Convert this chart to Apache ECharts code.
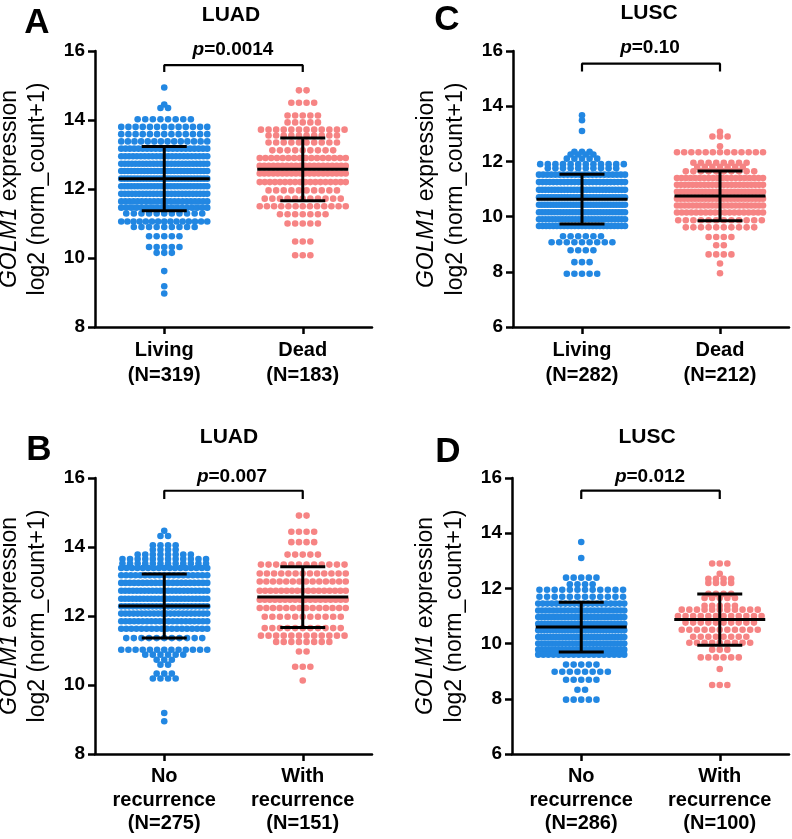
<!DOCTYPE html>
<html>
<head>
<meta charset="utf-8">
<script src="https://cdn.jsdelivr.net/npm/echarts@6/dist/echarts.min.js"></script>
<style>
html,body{margin:0;padding:0;background:#fff;}
#chart{width:792px;height:839px;}
</style>
</head>
<body>
<div id="chart"></div>
<script>
// ---------- DATA ----------
// Category labels
const catsA = ['Living\n(N=319)', 'Dead\n(N=183)'];
const catsC = ['Living\n(N=282)', 'Dead\n(N=212)'];
const catsB = ['No\nrecurrence\n(N=275)', 'With\nrecurrence\n(N=151)'];
const catsD = ['No\nrecurrence\n(N=286)', 'With\nrecurrence\n(N=100)'];

// Swarm rows: expression level of each row and number of dots in that row
// Panel A  LUAD  Living / Dead
const luadLivingY = [14.94,14.45,14.35,14.02,13.80,13.59,13.38,13.17,12.95,12.73,12.52,12.30,12.08,11.86,11.64,11.46,11.29,11.06,10.90,10.63,10.32,10.15,9.62,9.18,8.97];
const luadLivingN = [1,1,2,8,13,13,14,21,23,25,27,28,27,25,22,18,11,15,9,5,5,3,1,1,1];
const luadDeadY = [14.86,14.50,14.13,13.93,13.72,13.55,13.35,13.12,12.90,12.67,12.45,12.20,11.96,11.72,11.50,11.27,11.00,10.48,10.08];
const luadDeadN = [2,4,5,5,12,10,10,9,16,20,20,18,10,11,13,7,5,3,3];
// Panel C  LUSC  Living / Dead
const luscLivingY = [13.67,13.49,13.10,12.35,12.25,12.10,11.90,11.75,11.52,11.25,10.97,10.70,10.43,10.16,9.90,9.66,9.29,9.07,8.78,8.35,7.93];
const luscLivingN = [1,1,1,3,4,5,12,10,22,25,28,31,31,29,27,25,6,9,4,3,5];
const luscDeadY = [13.07,12.90,12.55,12.33,11.95,11.80,11.64,11.40,11.15,10.90,10.65,10.40,10.15,9.87,9.61,9.26,8.96,8.63,8.30,7.95];
const luscDeadN = [1,3,1,13,8,7,10,20,23,25,25,23,19,12,10,4,2,4,1,1];
// Panel B  LUAD  No recurrence / With recurrence
const luadNoRecY = [14.47,14.32,14.05,13.92,13.78,13.65,13.52,13.39,13.18,12.96,12.73,12.50,12.28,12.07,11.85,11.63,11.36,11.02,10.88,10.73,10.59,10.33,10.19,9.19,8.95];
const luadNoRecN = [1,2,4,4,8,12,12,17,19,21,23,24,23,22,21,18,11,13,6,3,2,3,4,1,1];
const luadRecY = [14.91,14.44,14.14,13.78,13.49,13.23,13.00,12.73,12.47,12.23,11.98,11.65,11.43,11.25,10.97,10.53,10.13];
const luadRecN = [2,4,4,5,12,13,14,17,18,14,11,11,12,8,2,3,1];
// Panel D  LUSC  No recurrence / With recurrence
const luscNoRecY = [13.68,13.10,12.39,12.15,11.95,11.70,11.45,11.20,10.96,10.72,10.48,10.24,10.00,9.78,9.60,9.24,8.98,8.69,8.33,7.97];
const luscNoRecN = [1,1,5,4,12,12,20,24,27,29,30,29,26,23,18,5,8,5,2,5];
const luscRecY = [12.90,12.53,12.35,12.20,11.80,11.65,11.37,11.23,11.00,10.76,10.50,10.25,10.03,9.78,9.50,9.08,8.50];
const luscRecN = [3,1,4,4,4,5,5,11,12,10,11,8,9,3,6,1,3];

// Mean and SD per group
const meanA = [12.30, 12.57], sdA = [0.93, 0.91];
const meanC = [10.63, 10.75], sdC = [0.90, 0.90];
const meanB = [12.29, 12.55], sdB = [0.93, 0.88];
const meanD = [10.60, 10.87], sdD = [0.90, 0.93];

// p-values and bracket levels [drop end, top]
const pVals = ['0.0014', '0.10', '0.007', '0.012'];
const bracketA = [15.39, 15.59];
const bracketC = [15.26, 15.54];
const bracketB = [15.39, 15.63];
const bracketD = [15.24, 15.54];

const panelTitles = ['LUAD', 'LUSC', 'LUAD', 'LUSC'];
const panelLetters = ['A', 'C', 'B', 'D'];

// ---------- STYLE ----------
const FONT = '"Liberation Sans", Arial, Helvetica, sans-serif';
const BLUE = '#2287e2';
const PINK = '#f68484';

function swarm(cat, ys, ns) {
  const out = [];
  ys.forEach((v, i) => {
    const n = ns[i];
    const sp = n > 1 ? Math.min(7.6, 86 / (n - 1)) : 0;
    for (let k = 0; k < n; k++) {
      out.push({ value: [cat, v], symbolOffset: [(k - (n - 1) / 2) * sp, 0] });
    }
  });
  return out;
}

const grids = [
  { left: 95, top: 51, width: 277, height: 276 },
  { left: 513, top: 51, width: 276, height: 276 },
  { left: 95, top: 478, width: 277, height: 276 },
  { left: 512, top: 478, width: 277, height: 276 }
];
const cats = [catsA, catsC, catsB, catsD];
const yMins = [8, 6, 8, 6];
const groupsY = [[luadLivingY, luadDeadY], [luscLivingY, luscDeadY], [luadNoRecY, luadRecY], [luscNoRecY, luscRecY]];
const groupsN = [[luadLivingN, luadDeadN], [luscLivingN, luscDeadN], [luadNoRecN, luadRecN], [luscNoRecN, luscRecN]];
const means = [meanA, meanC, meanB, meanD];
const sds = [sdA, sdC, sdB, sdD];
const brackets = [bracketA, bracketC, bracketB, bracketD];

const xAxes = [], yAxes = [], series = [];
for (let g = 0; g < 4; g++) {
  const twoLine = g < 2;
  xAxes.push({
    type: 'category', gridIndex: g, data: cats[g], boundaryGap: true,
    axisLine: { show: true, lineStyle: { color: '#000', width: 2.5 } },
    axisTick: { show: true, alignWithLabel: true, length: 7, lineStyle: { color: '#000', width: 2.5 } },
    axisLabel: { color: '#000', fontFamily: FONT, fontWeight: 'bold', fontSize: 20,
      lineHeight: twoLine ? 25 : 23.5, margin: 11, interval: 0 },
    splitLine: { show: false }
  });
  yAxes.push({
    type: 'value', gridIndex: g, min: yMins[g], max: 16, interval: 2,
    axisLine: { show: true, lineStyle: { color: '#000', width: 2.5 } },
    axisTick: { show: true, length: 7, lineStyle: { color: '#000', width: 2.5 } },
    axisLabel: { color: '#000', fontFamily: FONT, fontWeight: 'bold', fontSize: 19, margin: 10 },
    splitLine: { show: false }
  });
  [0, 1].forEach(c => {
    series.push({
      type: 'scatter', xAxisIndex: g, yAxisIndex: g,
      symbol: 'circle', symbolSize: 6.6,
      itemStyle: { color: c === 0 ? BLUE : PINK, opacity: 1 },
      data: swarm(c, groupsY[g][c], groupsN[g][c]),
      z: 2, silent: true, animation: false
    });
  });
  series.push({
    type: 'custom', xAxisIndex: g, yAxisIndex: g, z: 5, animation: false, silent: true,
    data: [[0, means[g][0], sds[g][0]], [1, means[g][1], sds[g][1]]],
    encode: { x: 0, y: 1 },
    renderItem: function (params, api) {
      const c = api.value(0), m = api.value(1), s = api.value(2);
      const pm = api.coord([c, m]), pt = api.coord([c, m + s]), pb = api.coord([c, m - s]);
      const st = { stroke: '#000', lineWidth: 3 };
      return { type: 'group', children: [
        { type: 'line', shape: { x1: pm[0] - 45.5, y1: pm[1], x2: pm[0] + 45.5, y2: pm[1] }, style: st },
        { type: 'line', shape: { x1: pt[0], y1: pt[1], x2: pb[0], y2: pb[1] }, style: st },
        { type: 'line', shape: { x1: pt[0] - 22.5, y1: pt[1], x2: pt[0] + 22.5, y2: pt[1] }, style: st },
        { type: 'line', shape: { x1: pb[0] - 22.5, y1: pb[1], x2: pb[0] + 22.5, y2: pb[1] }, style: st }
      ]};
    }
  });
  const b = brackets[g];
  series.push({
    type: 'line', xAxisIndex: g, yAxisIndex: g, symbol: 'none', silent: true, animation: false,
    lineStyle: { color: '#000', width: 2.2 },
    data: [[0, b[0]], [0, b[1]], [1, b[1]], [1, b[0]]], z: 4
  });
}

// ---------- annotations ----------
const titlePos = [[231, 15], [649, 13], [229, 437], [647, 437]];
const letterPos = [[37, 23], [447, 20], [39, 450], [448, 452]];
const pPos = [[233, 50], [650, 48], [232, 477], [650, 477]];
const yNamePos = [[9.5, 38, 189], [427, 456, 189], [9.5, 38, 616], [426, 455, 616]];
const graphic = [];
for (let g = 0; g < 4; g++) {
  graphic.push({ type: 'text', x: titlePos[g][0], y: titlePos[g][1], silent: true,
    style: { text: panelTitles[g], fill: '#000', font: 'bold 21px ' + FONT, align: 'center', verticalAlign: 'middle' } });
  graphic.push({ type: 'text', x: letterPos[g][0], y: letterPos[g][1], silent: true,
    style: { text: panelLetters[g], fill: '#000', font: 'bold 35px ' + FONT, align: 'center', verticalAlign: 'middle' } });
  graphic.push({ type: 'text', x: pPos[g][0], y: pPos[g][1], silent: true,
    style: { text: '{i|p}{b|=' + pVals[g] + '}', align: 'center', verticalAlign: 'middle',
      rich: { i: { fill: '#000', fontFamily: FONT, fontSize: 19, fontWeight: 'bold', fontStyle: 'italic' },
              b: { fill: '#000', fontFamily: FONT, fontSize: 19, fontWeight: 'bold' } } } });
  graphic.push({ type: 'text', x: yNamePos[g][0], y: yNamePos[g][2], rotation: Math.PI / 2, silent: true,
    style: { text: '{i|GOLM1}{n| expression}', align: 'center', verticalAlign: 'middle',
      rich: { i: { fill: '#000', fontFamily: FONT, fontSize: 23, fontStyle: 'italic' },
              n: { fill: '#000', fontFamily: FONT, fontSize: 23 } } } });
  graphic.push({ type: 'text', x: yNamePos[g][1], y: yNamePos[g][2], rotation: Math.PI / 2, silent: true,
    style: { text: 'log2 (norm_count+1)', fill: '#000', font: '23px ' + FONT, align: 'center', verticalAlign: 'middle' } });
}

const chart = echarts.init(document.getElementById('chart'), null, { renderer: 'canvas' });
chart.setOption({
  backgroundColor: '#fff',
  animation: false,
  grid: grids,
  xAxis: xAxes,
  yAxis: yAxes,
  series: series,
  graphic: graphic
});
</script>
</body>
</html>
